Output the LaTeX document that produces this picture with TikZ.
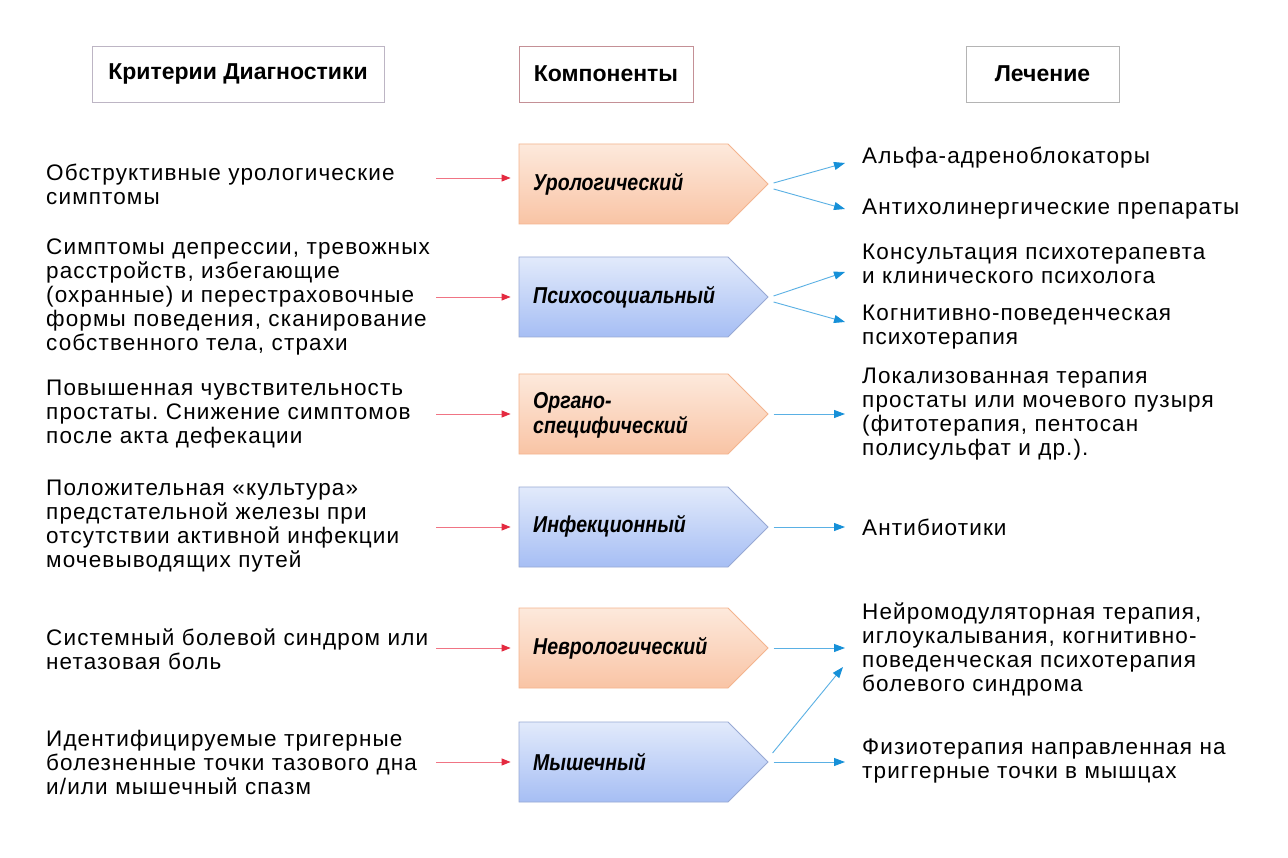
\documentclass[tikz,border=0pt]{standalone}
\usepackage{fontspec}
\setmainfont{Liberation Sans}[LetterSpace=5]
\newfontfamily\condfont[FakeStretch=0.85]{Liberation Sans}
\newfontfamily\headfont{Liberation Sans}
\usetikzlibrary{shapes.symbols,arrows.meta}
\frenchspacing
\definecolor{orTop}{HTML}{FDE9DC}
\definecolor{orBot}{HTML}{F9C4A5}
\definecolor{orLine}{HTML}{F4B48E}
\definecolor{blTop}{HTML}{E2EAFB}
\definecolor{blBot}{HTML}{A6BEF4}
\definecolor{blLine}{HTML}{98A9D4}
\definecolor{redTip}{HTML}{E42A40}
\definecolor{redLine}{HTML}{F07484}
\definecolor{bluTip}{HTML}{1690D8}
\definecolor{bluLine}{HTML}{5AB0E4}
\definecolor{hOne}{HTML}{BDB5C4}
\definecolor{hTwo}{HTML}{C49096}
\definecolor{hThree}{HTML}{B4B4B4}
\tikzset{
  header/.style={draw=#1, line width=0.9pt, minimum height=56pt, inner sep=0pt,
    font=\headfont\bfseries\fontsize{23}{26}\selectfont},
  comp/.style={signal, signal to=east, signal pointer angle=90, minimum height=80pt,
    minimum width=249pt, inner sep=0pt, line width=0.8pt},
  orcomp/.style={comp, draw=orLine, top color=orTop, bottom color=orBot},
  blcomp/.style={comp, draw=blLine, top color=blTop, bottom color=blBot},
  clabel/.style={anchor=west, inner sep=0pt, align=left,
    font=\condfont\bfseries\itshape\fontsize{23}{25}\selectfont},
  ltext/.style={anchor=west, inner sep=0pt, align=left, text width=390pt,
    font=\fontsize{22.5}{24}\selectfont},
  rtext/.style={anchor=west, inner sep=0pt, align=left,
    font=\fontsize{22.5}{24}\selectfont},
  redarrow/.style={draw=redLine, line width=0.9pt, -{Triangle[length=9pt,width=7pt,fill=redTip,color=redTip]}, shorten >=8pt},
  bluearrow/.style={draw=bluLine, line width=0.9pt, -{Triangle[length=11pt,width=8pt,fill=bluTip,color=bluTip]}}
}
\begin{document}
\begin{tikzpicture}[x=1pt,y=-1pt]
\useasboundingbox[fill=white] (0,0) rectangle (1288,858);
% headers
\node[header=hOne] (h1) at (238,74) [minimum width=292pt] {Критерии Диагностики};
\node[header=hTwo] (h2) at (606,74) [minimum width=174pt] {Компоненты};
\node[header=hThree] (h3) at (1042.5,74) [minimum width=153pt] {Лечение};
% components
\node[orcomp] (p1) at (623.5,184) {};
\node[blcomp] (p2) at (623.5,297) {};
\node[orcomp] (p3) at (623.5,414) {};
\node[blcomp] (p4) at (623.5,527) {};
\node[orcomp] (p5) at (623.5,648) {};
\node[blcomp] (p6) at (623.5,762) {};
\node[clabel] (c1) at (533,184) {Урологический};
\node[clabel] (c2) at (533,297) {Психосоциальный};
\node[clabel] (c3) at (533,415) {Органо-\\специфический};
\node[clabel] (c4) at (533,526) {Инфекционный};
\node[clabel] (c5) at (533,648) {Неврологический};
\node[clabel] (c6) at (533,762) {Мышечный};
% left texts
\node[ltext] (l1) at (46,184) {Обструктивные урологические\\симптомы};
\node[ltext] (l2) at (46,297) {Симптомы депрессии, тревожных\\расстройств, избегающие\\(охранные) и перестраховочные\\формы поведения, сканирование\\собственного тела, страхи};
\node[ltext] (l3) at (46,414) {Повышенная чувствительность\\простаты. Снижение симптомов\\после акта дефекации};
\node[ltext] (l4) at (46,526) {Положительная «культура»\\предстательной железы при\\отсутствии активной инфекции\\мочевыводящих путей};
\node[ltext] (l5) at (46,649) {Системный болевой синдром или\\нетазовая боль};
\node[ltext] (l6) at (46,762) {Идентифицируемые тригерные\\болезненные точки тазового дна\\и/или мышечный спазм};
% right texts
\node[rtext] (r1) at (862,158) {Альфа-адреноблокаторы};
\node[rtext] (r2) at (862,209) {Антихолинергические препараты};
\node[rtext] (r3) at (862,264) {Консультация психотерапевта\\и клинического психолога};
\node[rtext] (r4) at (862,327) {Когнитивно-поведенческая\\психотерапия};
\node[rtext] (r5) at (862,414) {Локализованная терапия\\простаты или мочевого пузыря\\(фитотерапия, пентосан\\полисульфат и др.).};
\node[rtext] (r6) at (862,527) {Антибиотики};
\node[rtext] (r7) at (862,649) {Нейромодуляторная терапия,\\иглоукалывания, когнитивно-\\поведенческая психотерапия\\болевого синдрома};
\node[rtext] (r8) at (862,761) {Физиотерапия направленная на\\триггерные точки в мышцах};
% red arrows
\draw[redarrow] ([yshift=6pt]p1.west -| l1.east) -- ([yshift=6pt]p1.west);
\foreach \i in {2,...,6} {\draw[redarrow] (p\i.west -| l\i.east) -- (p\i.west);}
% blue arrows
\draw[bluearrow] ([xshift=5pt,yshift=1pt]p1.east) -- ([xshift=-17pt,yshift=-5pt]r1.west);
\draw[bluearrow] ([xshift=5pt,yshift=-5pt]p1.east) -- ([xshift=-17pt,yshift=0pt]r2.west);
\draw[bluearrow] ([xshift=5pt,yshift=1pt]p2.east) -- ([xshift=-17pt,yshift=-8pt]r3.west);
\draw[bluearrow] ([xshift=5pt,yshift=-5pt]p2.east) -- ([xshift=-17pt,yshift=5pt]r4.west);
\draw[bluearrow] ([xshift=5pt]p3.east) -- ([xshift=-17pt]p3.east -| r5.west);
\draw[bluearrow] ([xshift=5pt]p4.east) -- ([xshift=-17pt]r6.west);
\draw[bluearrow] ([xshift=5pt]p5.east) -- ([xshift=-17pt]p5.east -| r7.west);
\draw[bluearrow] ([xshift=5pt]p6.east) -- ([xshift=-17pt]p6.east -| r8.west);
\draw[bluearrow] ([xshift=4pt,yshift=9pt]p6.east) -- ([xshift=-19pt,yshift=-19pt]p5.east -| r7.west);
\end{tikzpicture}
\end{document}
